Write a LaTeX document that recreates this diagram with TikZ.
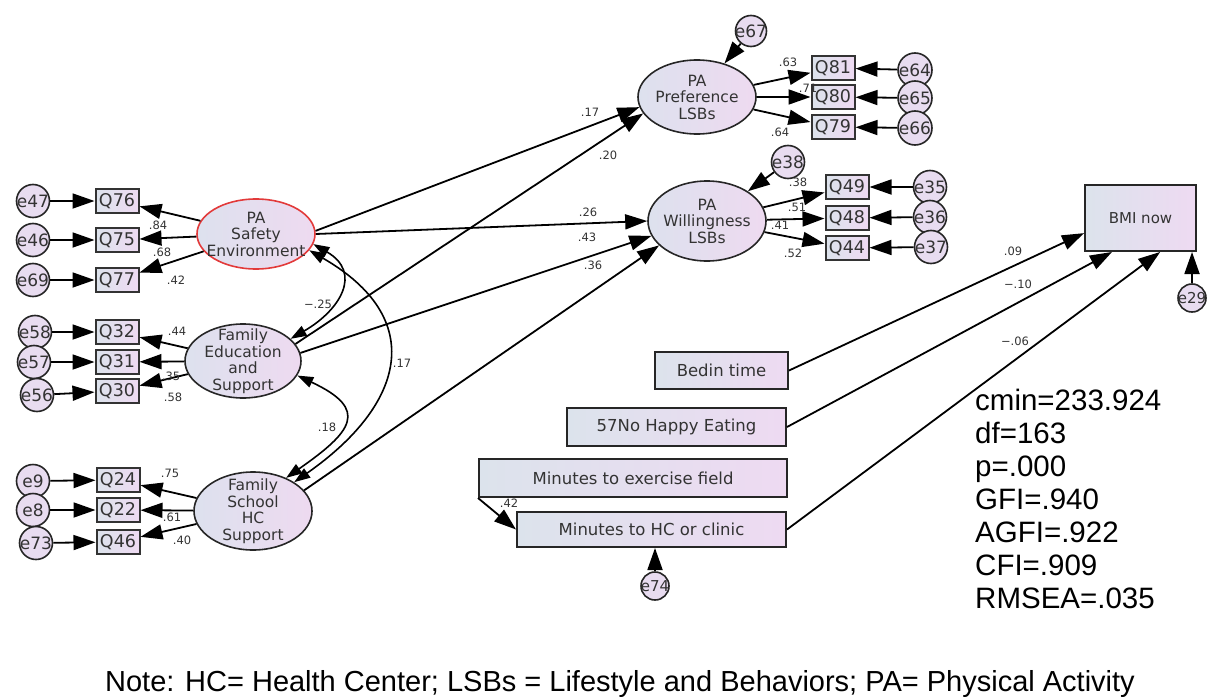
\documentclass[tikz,border=0pt]{standalone}
\usepackage{fontspec}
\setmainfont{DejaVu Sans}
\newfontfamily\arialf{Liberation Sans}
\usetikzlibrary{arrows.meta,shapes.geometric}
\definecolor{latL}{HTML}{DDE1EE}
\definecolor{latR}{HTML}{EEDAF0}
\definecolor{boxL}{HTML}{DCE3EC}
\definecolor{boxR}{HTML}{EEDAF2}
\definecolor{errC}{HTML}{E8DCF0}
\definecolor{redE}{HTML}{E23A3A}
\definecolor{txt}{HTML}{333333}
\begin{document}
\begin{tikzpicture}[x=1pt,y=-1pt,
  ar/.style={line width=1.8pt, draw=black, -{Triangle[length=22pt,width=15pt]}},
  cv/.style={line width=1.6pt, draw=black, {Triangle[length=16pt,width=11pt]}-{Triangle[length=16pt,width=11pt]}},
  lat/.style={ellipse, draw=black!85, line width=1.6pt, left color=latL, right color=latR,
    minimum width=118pt, minimum height=74pt, inner xsep=-30pt, inner ysep=-22pt,
    align=center, font=\fontsize{15.5}{16.5}\selectfont, text=txt},
  obs/.style={rectangle, draw=black!80, line width=2pt, left color=boxL, right color=boxR,
    minimum width=43pt, minimum height=24pt, inner sep=0pt, font=\fontsize{17.5}{18}\selectfont, text=txt},
  err/.style={circle, draw=black!85, line width=1.6pt, fill=errC, minimum size=33pt,
    inner sep=-4pt, font=\fontsize{17}{17}\selectfont, text=txt},
  big/.style={rectangle, draw=black!85, line width=2pt, left color=boxL, right color=boxR,
    inner sep=0pt, font=\fontsize{16.5}{18}\selectfont, text=txt},
  lab/.style={font=\fontsize{11.5}{12}\selectfont, text=txt, inner sep=0pt}
]
\useasboundingbox (0,0) rectangle (1209,698);

% ---------- left block ----------
\node[err] (e47) at (33,201) {e47};
\node[obs] (q76) at (117,201) {Q76};
\node[err] (e46) at (33,240) {e46};
\node[obs] (q75) at (117,240) {Q75};
\node[err] (e69) at (33,280) {e69};
\node[obs] (q77) at (117,280) {Q77};
\node[lat, draw=redE, minimum height=70pt] (safe) at (256,234) {PA\\Safety\\Environment};

\node[err] (e58) at (35,332) {e58};
\node[obs] (q32) at (117,332) {Q32};
\node[err] (e57) at (34,362) {e57};
\node[obs] (q31) at (117,362) {Q31};
\node[err] (e56) at (37,395) {e56};
\node[obs] (q30) at (117,391) {Q30};
\node[lat, minimum width=116pt] (fedu) at (243,361) {Family\\Education\\and\\Support};

\node[err] (e9) at (33,481) {e9};
\node[obs] (q24) at (118,480) {Q24};
\node[err] (e8) at (33,510) {e8};
\node[obs] (q22) at (118,510) {Q22};
\node[err] (e73) at (36,543) {e73};
\node[obs] (q46) at (118,542) {Q46};
\node[lat, minimum height=78pt] (fsch) at (253,511) {Family\\School\\HC\\Support};

% ---------- top right ----------
\node[lat] (pref) at (697,97) {PA\\Preference\\LSBs};
\node[err, minimum size=31pt] (e67) at (751,31) {e67};
\node[obs] (q81) at (833,68) {Q81};
\node[obs] (q80) at (833,97) {Q80};
\node[obs] (q79) at (833,127) {Q79};
\node[err, minimum size=34pt] (e64) at (915,70) {e64};
\node[err, minimum size=34pt] (e65) at (915,98) {e65};
\node[err, minimum size=34pt] (e66) at (915,128) {e66};

\node[lat, minimum height=80pt] (will) at (707,221) {PA\\Willingness\\LSBs};
\node[err] (e38) at (788,162) {e38};
\node[obs] (q49) at (847,187) {Q49};
\node[obs] (q48) at (847,218) {Q48};
\node[obs] (q44) at (847,248) {Q44};
\node[err] (e35) at (930,187) {e35};
\node[err] (e36) at (930,217) {e36};
\node[err] (e37) at (931,247) {e37};

% ---------- observed right ----------
\node[big, minimum width=111pt, minimum height=66pt, font=\fontsize{15}{17}\selectfont] (bmi) at (1140.5,218) {BMI now};
\node[err, minimum size=28pt, inner sep=-5pt, font=\fontsize{15}{16}\selectfont] (e29) at (1192,298) {e29};
\node[big, minimum width=133pt, minimum height=37pt] (bedin) at (721.5,370.5) {Bedin time};
\node[big, minimum width=219pt, minimum height=38pt] (eat) at (676.5,427) {57No Happy Eating};
\node[big, minimum width=308pt, minimum height=38pt] (exer) at (633,478) {Minutes to exercise field};
\node[big, minimum width=269pt, minimum height=35pt] (hc) at (651.5,529.5) {Minutes to HC or clinic};
\node[err, minimum size=28pt, inner sep=-5pt, font=\fontsize{15}{16}\selectfont] (e74) at (655,586) {e74};

% ---------- measurement arrows ----------
\foreach \e/\q in {e47/q76,e46/q75,e69/q77,e58/q32,e57/q31,e56/q30,e9/q24,e8/q22,e73/q46,
                   e64/q81,e65/q80,e66/q79,e35/q49,e36/q48,e37/q44}
  \draw[ar] (\e) -- (\q);
\foreach \l/\q in {safe/q76,safe/q75,safe/q77,fedu/q32,fedu/q31,fedu/q30,fsch/q24,fsch/q22,fsch/q46,
                   pref/q81,pref/q80,pref/q79,will/q49,will/q48,will/q44}
  \draw[ar] (\l) -- (\q);
\draw[ar] (e67) -- (pref);
\draw[ar] (e38) -- (will);

% ---------- structural ----------
\draw[ar] (safe.3) -- (pref.190);
\draw[ar] (fedu.18) -- (pref.197);
\draw[ar] (safe.east) -- (will.west);
\draw[ar] (fedu.8) -- (will.195);
\draw[ar] (fsch.22) -- (will.207);

% ---------- covariances ----------
\draw[cv] (safe.-10) to[out=-30, in=30, looseness=1.5] (fedu.25);
\draw[cv] (safe.-17) to[out=-30, in=35, looseness=1.5] (fsch.35);
\draw[cv] (fedu.-15) to[out=-25, in=35, looseness=2] (fsch.45);

% ---------- BMI ----------
\draw[ar] (bedin.east) -- (bmi.-165);
\draw[ar] (eat.east) -- (bmi.-130);
\draw[ar] (hc.east) -- (bmi.-60);
\draw[ar] (e29.north) -- (e29.north |- bmi.south);
\draw[ar] (exer.south west) -- (hc.west);
\draw[ar] (e74.north) -- (e74.north |- hc.south);

% ---------- labels ----------
\node[lab] (l1) at (158,225) {.84};
\node[lab] (l2) at (162,252) {.68};
\node[lab] (l3) at (176,280) {.42};
\node[lab] (l4) at (177,331) {.44};
\node[lab] (l5) at (171,376) {.35};
\node[lab] (l6) at (173,397) {.58};
\node[lab] (l7) at (170,473) {.75};
\node[lab] (l8) at (172,517) {.61};
\node[lab] (l9) at (182,540) {.40};
\node[lab] (l10) at (788,62) {.63};
\node[lab] (l11) at (808,88) {.71};
\node[lab] (l12) at (780,132) {.64};
\node[lab] (l13) at (798,182) {.38};
\node[lab] (l14) at (797,207) {.51};
\node[lab] (l15) at (780,225) {.41};
\node[lab] (l16) at (793,253) {.52};
\node[lab] (l17) at (590,112) {.17};
\node[lab] (l18) at (608,155) {.20};
\node[lab] (l19) at (588,212) {.26};
\node[lab] (l20) at (587,237) {.43};
\node[lab] (l21) at (593,265) {.36};
\node[lab] (l22) at (318,304) {−.25};
\node[lab] (l23) at (402,363) {.17};
\node[lab] (l24) at (327,427) {.18};
\node[lab] (l25) at (509,503) {.42};
\node[lab] (l26) at (1013,251) {.09};
\node[lab] (l27) at (1018,284) {−.10};
\node[lab] (l28) at (1015,341) {−.06};

% ---------- fit statistics & note ----------
\node[anchor=north west, align=left, inner sep=0pt, font=\arialf\fontsize{29.5}{33}\selectfont] (fit) at (975,389)
  {cmin=233.924\\df=163\\p=.000\\GFI=.940\\AGFI=.922\\CFI=.909\\RMSEA=.035};
\node[inner sep=0pt, font=\arialf\fontsize{29}{31}\selectfont] (note) at (620,684)
  {Note: HC= Health Center; LSBs = Lifestyle and Behaviors; PA= Physical Activity};
\end{tikzpicture}
\end{document}
